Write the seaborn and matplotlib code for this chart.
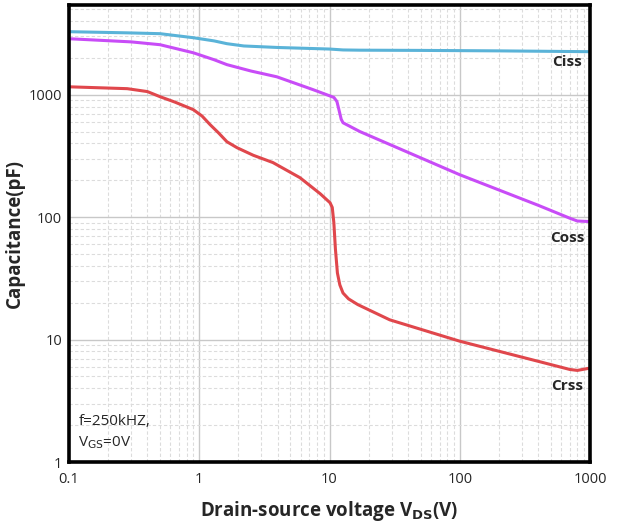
import numpy as np
import pandas as pd
import matplotlib
matplotlib.use("Agg")
import matplotlib.pyplot as plt
import seaborn as sns
from matplotlib.ticker import LogLocator, FixedLocator, FixedFormatter, NullFormatter

sns.set_style("white")
plt.rcParams['font.family'] = ['Open Sans', 'DejaVu Sans']

# Ciss
ciss_v = [0.1, 0.28, 0.5, 0.9, 1.3, 1.63, 2.2, 4.0, 10, 12.7, 17, 50, 200, 1000]
ciss_c = [3270, 3200, 3150, 2920, 2750, 2610, 2500, 2430, 2360, 2320, 2310, 2300, 2280, 2245]
# Coss
coss_v = [0.1, 0.3, 0.5, 0.9, 1.3, 1.63, 2.5, 3.94, 7.47, 10, 10.8, 11.4, 11.9, 12.3, 12.7, 17.1, 100, 400, 700, 800, 1000]
coss_c = [2865, 2700, 2560, 2200, 1930, 1760, 1560, 1400, 1100, 980, 950, 880, 730, 630, 590, 500, 222, 125, 98, 93, 92]
# Crss
crss_v = [0.1, 0.28, 0.4, 0.5, 0.65, 0.9, 1.05, 1.21, 1.4, 1.63, 1.95, 2.6, 3.68, 5.93, 8.5, 10.1, 10.5, 10.8, 11.1, 11.5, 12.0, 12.7, 14.0, 16.5, 29, 100, 410, 700, 800, 1000]
crss_c = [1160, 1120, 1060, 963, 870, 755, 670, 570, 490, 413, 369, 320, 279, 210, 155, 131, 120, 90, 55, 35, 28, 24, 21.5, 19.3, 14.5, 9.7, 6.6, 5.7, 5.6, 5.85]

labels = ["Ciss", "Coss", "Crss"]
colors = ["#5ab3d8", "#c84cf7", "#e0474c"]

fig = plt.figure(figsize=(6.24, 5.23), dpi=100)
ax = fig.add_axes([0.1106, 0.1166, 0.8349, 0.8738])

for v, c, col in zip([ciss_v, coss_v, crss_v], [ciss_c, coss_c, crss_c], colors):
    df = pd.DataFrame({"V": v, "C": c})
    sns.lineplot(data=df, x="V", y="C", color=col, lw=2.2, ax=ax)

ax.set_xscale("log")
ax.set_yscale("log")
ax.set_xlim(0.1, 1000)
ax.set_ylim(1, 5400)

ax.xaxis.set_major_locator(FixedLocator([0.1, 1, 10, 100, 1000]))
ax.xaxis.set_major_formatter(FixedFormatter(["0.1", "1", "10", "100", "1000"]))
ax.yaxis.set_major_locator(FixedLocator([1, 10, 100, 1000]))
ax.yaxis.set_major_formatter(FixedFormatter(["1", "10", "100", "1000"]))
ax.xaxis.set_minor_locator(LogLocator(base=10, subs=np.arange(2, 10)))
ax.yaxis.set_minor_locator(LogLocator(base=10, subs=np.arange(2, 10)))
ax.xaxis.set_minor_formatter(NullFormatter())
ax.yaxis.set_minor_formatter(NullFormatter())

ax.grid(which="major", color="#c8c8c8", lw=1.0, ls="-")
ax.grid(which="minor", color="#dcdcdc", lw=0.8, ls=(0, (3, 2)))
ax.tick_params(which="both", length=0, labelsize=10.5)
ax.tick_params(axis="y", pad=5)
ax.tick_params(axis="x", pad=7)

for s in ax.spines.values():
    s.set_color("black")
    s.set_linewidth(2.6)

ax.set_xlabel("Drain-source voltage V$_{\\mathbf{DS}}$(V)", fontsize=13.5, fontweight="bold", labelpad=9)
ax.set_ylabel("Capacitance(pF)", fontsize=13.5, fontweight="bold", labelpad=3)

ax.text(664, 1860, "Ciss", fontsize=11, fontweight="bold", ha="center", va="center")
ax.text(664, 68, "Coss", fontsize=11, fontweight="bold", ha="center", va="center")
ax.text(664, 4.2, "Crss", fontsize=11, fontweight="bold", ha="center", va="center")
ax.text(0.118, 1.22, "f=250kHZ,\nV$_{\\mathrm{GS}}$=0V", fontsize=11, ha="left", va="bottom", linespacing=1.45)

fig.savefig("out.png", dpi=100)
